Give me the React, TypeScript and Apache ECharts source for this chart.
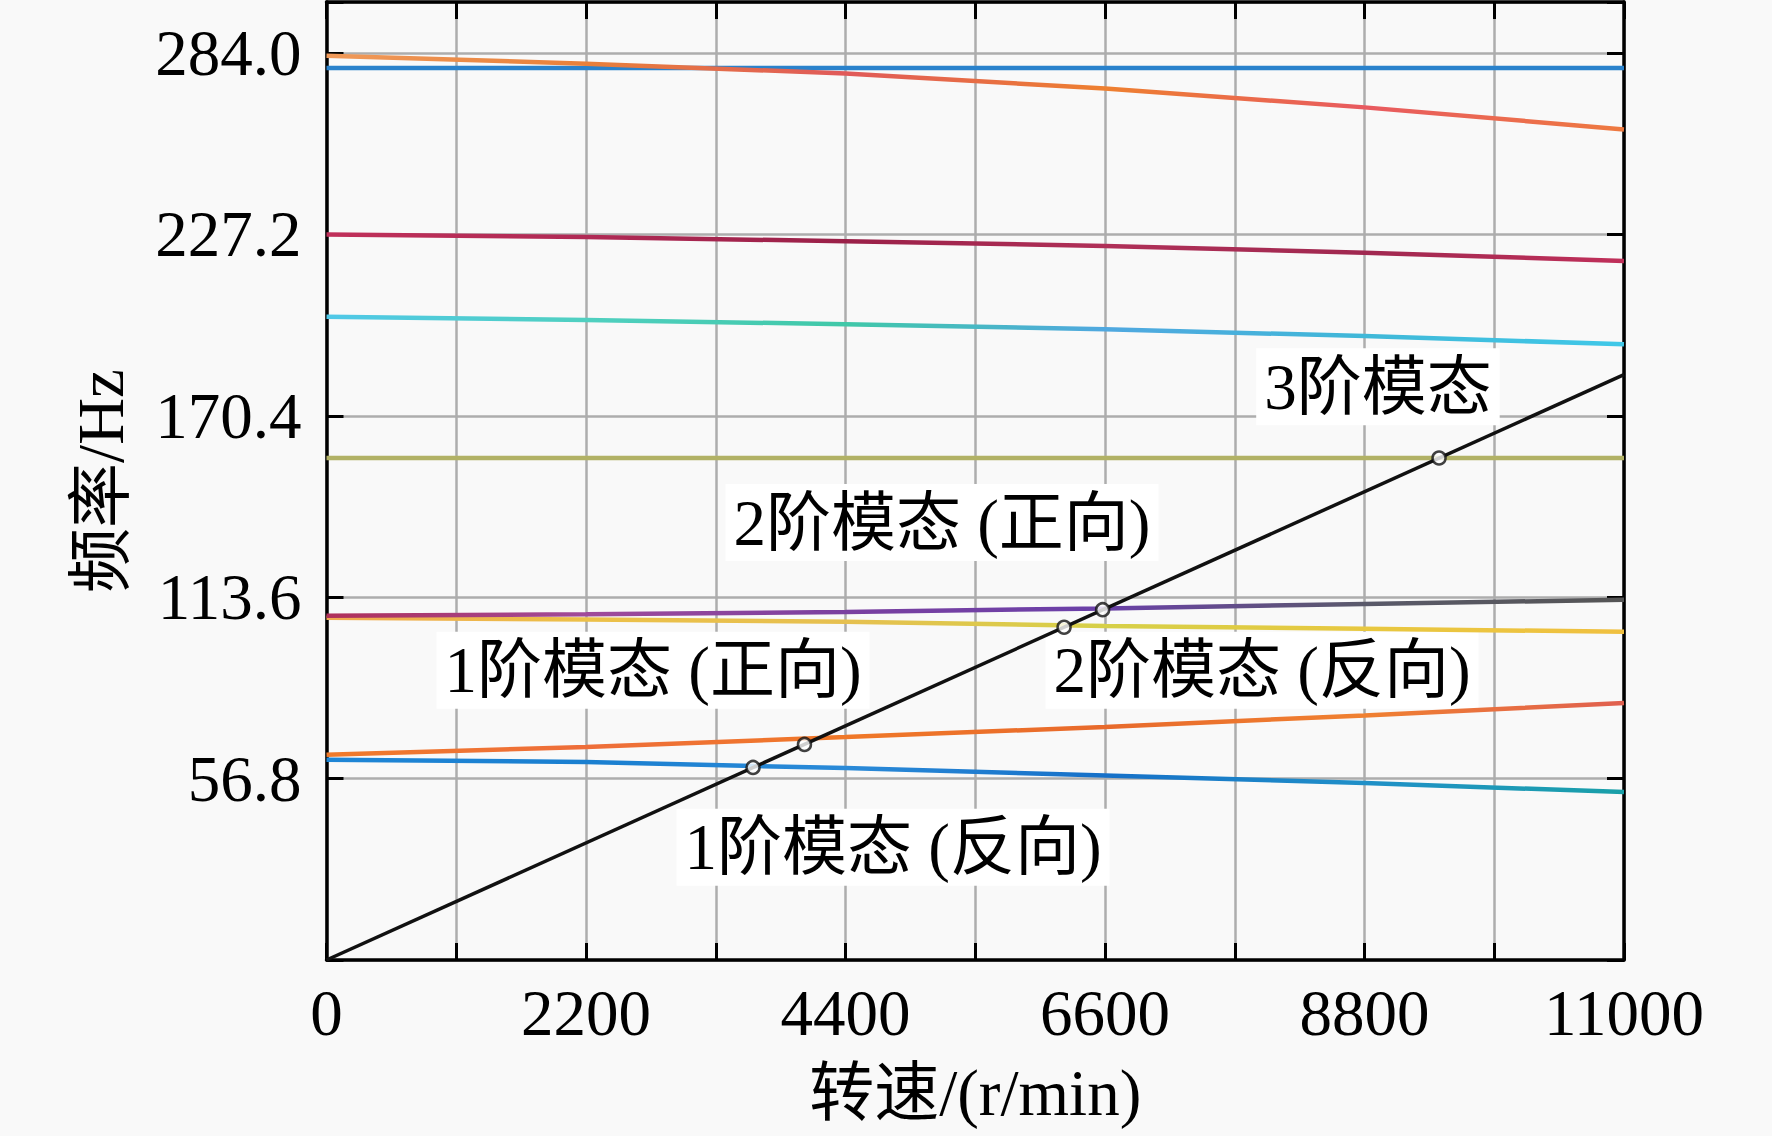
import React, { useEffect, useRef } from "react";
import * as echarts from "echarts";

// ---- data ----
const speedSteps = [0, 2200, 4400, 6600, 8800, 11000]; // r/min
const mode1Backward = [62.7, 62.0, 60.1, 57.8, 55.4, 52.6];
const mode1Forward = [64.3, 66.7, 69.8, 73.0, 76.6, 80.5];
const mode2Backward = [107.2, 106.6, 105.9, 104.6, 103.7, 102.8];
const mode2Forward = [107.8, 108.3, 109.0, 110.1, 111.5, 112.8];
const mode3Flat = [157.2, 157.2, 157.2, 157.2, 157.2, 157.2];
const mode4 = [201.4, 200.4, 199.1, 197.5, 195.4, 192.8];
const mode5 = [227.2, 226.4, 225.1, 223.6, 221.5, 218.9];
const mode6Flat = [279.3, 279.3, 279.3, 279.3, 279.3, 279.3];
const mode7 = [283.2, 280.7, 277.6, 272.9, 267.0, 260.1];

const excitationSpeed = [0, 11000];
const excitationFreq = [0, 183.3];

const criticalSpeed = [3616, 4052, 6253, 6580, 9432];
const criticalFreq = [60.3, 67.5, 104.2, 109.7, 157.2];

const annotationText = ["3阶模态", "2阶模态 (正向)", "1阶模态 (正向)", "2阶模态 (反向)", "1阶模态 (反向)"];
const annotationSpeed = [8914, 5218, 2768, 7931, 4803];
const annotationFreq = [179.5, 137.0, 90.7, 90.7, 35.3];

const xTickLabels = ["0", "2200", "4400", "6600", "8800", "11000"];
const yTickValues = [56.8, 113.6, 170.4, 227.2, 284.0];

const FONT = "'Liberation Serif', 'Times New Roman', 'Noto Sans CJK SC', serif";

function grad(stops: string[]) {
  return {
    type: "linear",
    x: 0,
    y: 0,
    x2: 1,
    y2: 0,
    colorStops: stops.map((c, i) => ({ offset: i / (stops.length - 1), color: c })),
  };
}

const pair = (ys: number[]) => speedSteps.map((s, i) => [s, ys[i]]);

export default function App() {
  const ref = useRef<HTMLDivElement>(null);
  useEffect(() => {
    if (!ref.current) return;
    const chart = echarts.init(ref.current, undefined, { renderer: "svg" });

    const modeLine = (name: string, ys: number[], color: any) => ({
      name,
      type: "line",
      data: pair(ys),
      showSymbol: false,
      symbol: "none",
      smooth: false,
      z: 3,
      lineStyle: { width: 4.5, color },
    });

    const gridColor = "#adadad";
    const axisCommon = {
      type: "value",
      axisLine: { show: true, onZero: false, lineStyle: { color: "#000", width: 3.5 } },
      axisTick: { show: true, inside: true, length: 17, lineStyle: { color: "#000", width: 3 } },
    };

    chart.setOption({
      animation: false,
      backgroundColor: "#f9f9f9",
      textStyle: { fontFamily: FONT },
      grid: { left: 326.5, right: 148, top: 2, bottom: 176, containLabel: false },
      xAxis: [
        {
          ...axisCommon,
          position: "bottom",
          min: 0,
          max: 11000,
          interval: 2200,
          minorTick: { show: true, splitNumber: 2, length: 17, lineStyle: { color: "#000", width: 3 } },
          splitLine: { show: true, lineStyle: { color: gridColor, width: 2.5 } },
          minorSplitLine: { show: true, lineStyle: { color: gridColor, width: 2.5 } },
          axisLabel: {
            show: true,
            margin: 20,
            fontSize: 65,
            fontFamily: FONT,
            color: "#000",
            showMinLabel: true,
            showMaxLabel: true,
            formatter: (v: number) => {
              const idx = Math.round(v / 2200);
              return xTickLabels[idx] ?? "";
            },
          },
          name: "转速/(r/min)",
          nameLocation: "middle",
          nameGap: 100,
          nameTextStyle: { fontSize: 65, fontFamily: FONT, color: "#000" },
        },
        {
          ...axisCommon,
          position: "top",
          min: 0,
          max: 11000,
          interval: 2200,
          minorTick: { show: true, splitNumber: 2, length: 17, lineStyle: { color: "#000", width: 3 } },
          splitLine: { show: false },
          axisLabel: { show: false },
        },
      ],
      yAxis: [
        {
          ...axisCommon,
          position: "left",
          min: 0,
          max: 300,
          interval: 56.8,
          splitLine: { show: true, lineStyle: { color: gridColor, width: 2.5 } },
          axisLabel: {
            show: true,
            margin: 25,
            fontSize: 65,
            fontFamily: FONT,
            color: "#000",
            formatter: (v: number) => {
              const hit = yTickValues.find((t) => Math.abs(t - v) < 1e-6);
              return hit === undefined ? "" : hit.toFixed(1);
            },
          },
          name: "频率/Hz",
          nameLocation: "middle",
          nameGap: 193,
          nameTextStyle: { fontSize: 65, fontFamily: FONT, color: "#000" },
        },
        {
          ...axisCommon,
          position: "right",
          min: 0,
          max: 300,
          interval: 56.8,
          splitLine: { show: false },
          axisLabel: { show: false },
        },
      ],
      series: [
        modeLine("mode1Backward", mode1Backward, grad(["#1f86d6", "#1a7fd0", "#2a8ad8", "#1670c8", "#2090c8", "#1aa0a8"])),
        modeLine("mode1Forward", mode1Forward, grad(["#f07a2a", "#ee6e3a", "#f07828", "#e86a2c", "#f08030", "#e06050"])),
        modeLine("mode2Backward", mode2Backward, grad(["#f0a850", "#ecc048", "#e6c050", "#d6d048", "#e8c840", "#f0c040"])),
        modeLine("mode2Forward", mode2Forward, grad(["#b0305a", "#a04a9a", "#7a40a0", "#6a40a8", "#5a5a6a", "#555555"])),
        modeLine("mode3", mode3Flat, "#b2b266"),
        modeLine("mode4", mode4, grad(["#50c8e8", "#50d0c0", "#40c8a8", "#50a8e0", "#40b8d8", "#40c8e8"])),
        modeLine("mode5", mode5, grad(["#c0305a", "#b02a55", "#9a2048", "#b03058", "#a02850", "#c0305a"])),
        modeLine("mode6", mode6Flat, "#2a82cc"),
        modeLine("mode7", mode7, grad(["#f09a5a", "#e8803a", "#e05a5a", "#ee8030", "#e85a60", "#ee7a40"])),
        {
          name: "excitation",
          type: "line",
          data: excitationSpeed.map((s, i) => [s, excitationFreq[i]]),
          showSymbol: false,
          symbol: "none",
          z: 4,
          lineStyle: { width: 3.5, color: "#111" },
        },
        {
          name: "critical",
          type: "scatter",
          data: criticalSpeed.map((s, i) => [s, criticalFreq[i]]),
          symbol: "circle",
          symbolSize: 13,
          z: 6,
          itemStyle: { color: "#ffffff", borderColor: "#111", borderWidth: 2.5 },
        },
        {
          name: "annotations",
          type: "scatter",
          data: annotationText.map((t, i) => [annotationSpeed[i], annotationFreq[i], t]),
          symbol: "circle",
          symbolSize: 2,
          z: 2,
          itemStyle: { color: "#ffffff", opacity: 1 },
          silent: true,
          label: {
            show: true,
            position: "inside",
            formatter: (p: any) => p.data[2],
            fontSize: 65,
            fontFamily: FONT,
            color: "#000000",
            opacity: 1,
            textBorderWidth: 0,
            textBorderColor: "transparent",
            backgroundColor: "#ffffff",
            padding: [6, 8],
          },
          labelLayout: { hideOverlap: false },
        },
      ],
    });
    return () => chart.dispose();
  }, []);

  return (
    <div
      ref={ref}
      style={{ position: "absolute", left: 0, top: 0, width: "1772px", height: "1136px" }}
    />
  );
}
